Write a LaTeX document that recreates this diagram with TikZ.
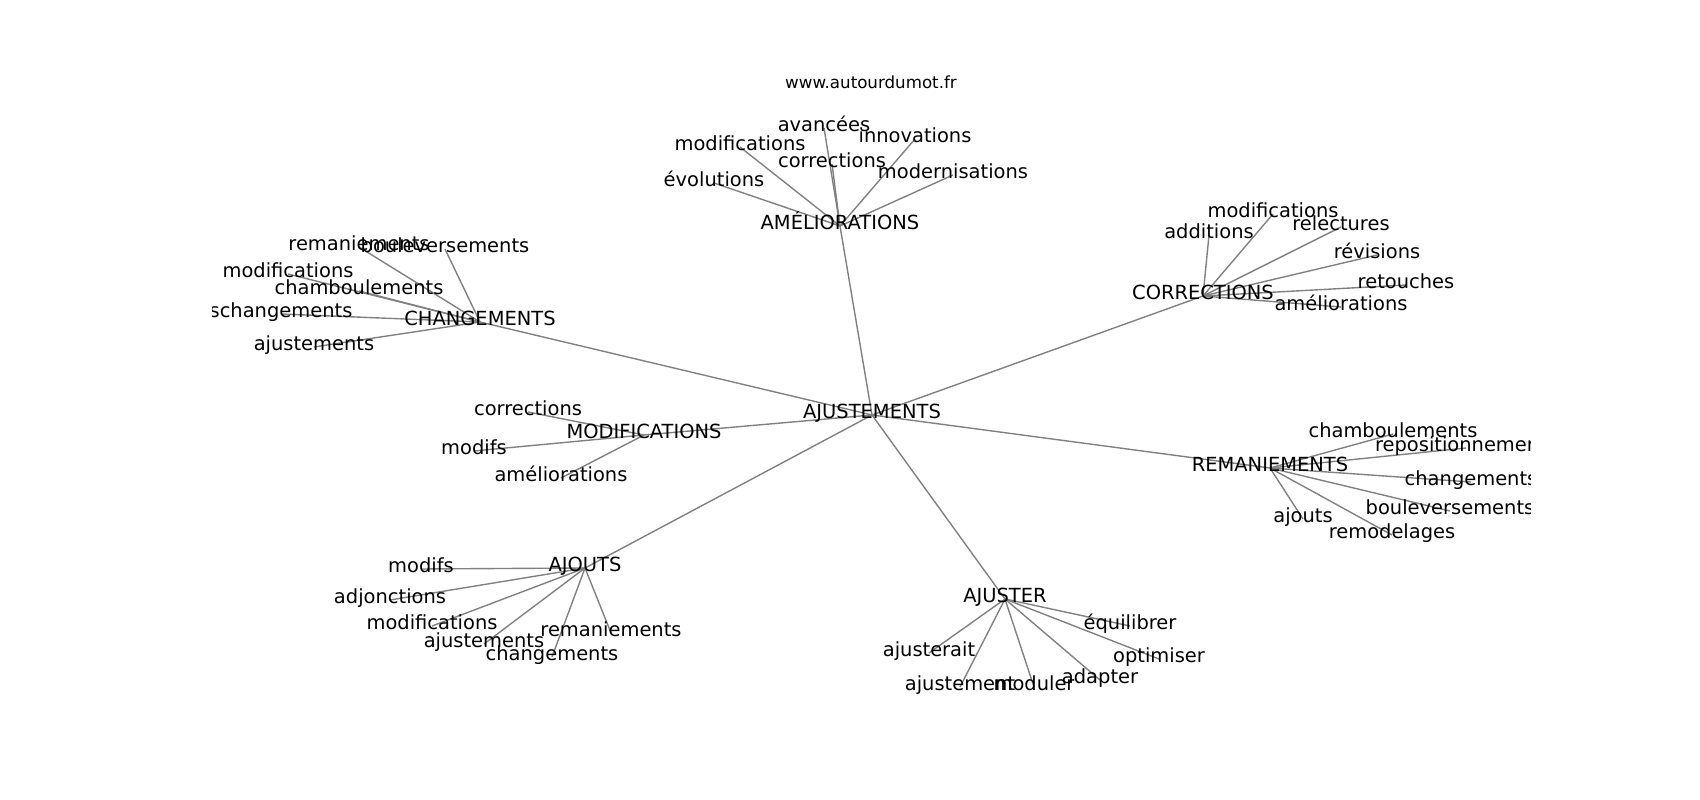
\documentclass[tikz,border=0pt]{standalone}
\usepackage{fontspec}
\setmainfont{DejaVu Sans}
\begin{document}
\begin{tikzpicture}[x=0.01in,y=-0.01in,
  edge/.style={draw=gray, line width=1bp},
  lbl/.style={font=\fontsize{14bp}{16bp}\selectfont, inner sep=0pt, text height=0.76em, text depth=0.23em, anchor=center},
  ttl/.style={font=\fontsize{12bp}{14bp}\selectfont, inner sep=0pt, anchor=base}]
\useasboundingbox (0,0) rectangle (1700,800);
\node[ttl] (title) at (871,89) {www.autourdumot.fr};
\begin{scope}
\clip (212.5,96) rectangle (1530,704);
% centre and hubs
\coordinate (c) at (872,415);
\coordinate (am) at (840,226);
\coordinate (co) at (1203,296);
\coordinate (ch) at (480,322);
\coordinate (mo) at (644,435);
\coordinate (re) at (1270,468);
\coordinate (aj) at (585,568);
\coordinate (ar) at (1005,599);
% AMELIORATIONS leaves
\coordinate (am1) at (824,128);
\coordinate (am2) at (740,147);
\coordinate (am3) at (915,139);
\coordinate (am4) at (832,164);
\coordinate (am5) at (953,175);
\coordinate (am6) at (714,183);
% CORRECTIONS leaves
\coordinate (co1) at (1273,214);
\coordinate (co2) at (1209,235);
\coordinate (co3) at (1341,227);
\coordinate (co4) at (1377,255);
\coordinate (co5) at (1406,285);
\coordinate (co6) at (1341,307);
% CHANGEMENTS leaves
\coordinate (ch1) at (359,247);
\coordinate (ch2) at (445,249);
\coordinate (ch3) at (288,274);
\coordinate (ch4) at (359,291);
\coordinate (ch5) at (281,314);
\coordinate (ch6) at (314,347);
% MODIFICATIONS leaves
\coordinate (mo1) at (528,412);
\coordinate (mo2) at (474,451);
\coordinate (mo3) at (561,478);
% REMANIEMENTS leaves
\coordinate (re1) at (1393,434);
\coordinate (re2) at (1466,448);
\coordinate (re3) at (1471,482);
\coordinate (re4) at (1450,511);
\coordinate (re5) at (1303,519);
\coordinate (re6) at (1392,535);
% AJOUTS leaves
\coordinate (aj1) at (421,569);
\coordinate (aj2) at (390,600);
\coordinate (aj3) at (432,626);
\coordinate (aj4) at (611,633);
\coordinate (aj5) at (484,644);
\coordinate (aj6) at (552,657);
% AJUSTER leaves
\coordinate (ar1) at (1130,626);
\coordinate (ar2) at (929,653);
\coordinate (ar3) at (1159,659);
\coordinate (ar4) at (960,687);
\coordinate (ar5) at (1034,687);
\coordinate (ar6) at (1100,680);
% edges
\foreach \h in {am,co,ch,mo,re,aj,ar} \draw[edge] (c) -- (\h);
\foreach \h in {am,co,ch,re,aj,ar} \foreach \i in {1,...,6} \draw[edge] (\h) -- (\h\i);
\foreach \i in {1,2,3} \draw[edge] (mo) -- (mo\i);
% labels
\node[lbl] (tc) at (c) {AJUSTEMENTS};
\node[lbl] (tam) at (am) {AMÉLIORATIONS};
\node[lbl] (tco) at (co) {CORRECTIONS};
\node[lbl] (tch) at (ch) {CHANGEMENTS};
\node[lbl] (tmo) at (mo) {MODIFICATIONS};
\node[lbl] (tre) at (re) {REMANIEMENTS};
\node[lbl] (taj) at (aj) {AJOUTS};
\node[lbl] (tar) at (ar) {AJUSTER};
\node[lbl] (tam1) at (am1) {avancées};
\node[lbl] (tam2) at (am2) {modifications};
\node[lbl] (tam3) at (am3) {innovations};
\node[lbl] (tam4) at (am4) {corrections};
\node[lbl] (tam5) at (am5) {modernisations};
\node[lbl] (tam6) at (am6) {évolutions};
\node[lbl] (tco1) at (co1) {modifications};
\node[lbl] (tco2) at (co2) {additions};
\node[lbl] (tco3) at (co3) {relectures};
\node[lbl] (tco4) at (co4) {révisions};
\node[lbl] (tco5) at (co5) {retouches};
\node[lbl] (tco6) at (co6) {améliorations};
\node[lbl] (tch1) at (ch1) {remaniements};
\node[lbl] (tch2) at (ch2) {bouleversements};
\node[lbl] (tch3) at (ch3) {modifications};
\node[lbl] (tch4) at (ch4) {chamboulements};
\node[lbl] (tch5) at (ch5) {schangements};
\node[lbl] (tch6) at (ch6) {ajustements};
\node[lbl] (tmo1) at (mo1) {corrections};
\node[lbl] (tmo2) at (mo2) {modifs};
\node[lbl] (tmo3) at (mo3) {améliorations};
\node[lbl] (tre1) at (re1) {chamboulements};
\node[lbl] (tre2) at (re2) {repositionnements};
\node[lbl] (tre3) at (re3) {changements};
\node[lbl] (tre4) at (re4) {bouleversements};
\node[lbl] (tre5) at (re5) {ajouts};
\node[lbl] (tre6) at (re6) {remodelages};
\node[lbl] (taj1) at (aj1) {modifs};
\node[lbl] (taj2) at (aj2) {adjonctions};
\node[lbl] (taj3) at (aj3) {modifications};
\node[lbl] (taj4) at (aj4) {remaniements};
\node[lbl] (taj5) at (aj5) {ajustements};
\node[lbl] (taj6) at (aj6) {changements};
\node[lbl] (tar1) at (ar1) {équilibrer};
\node[lbl] (tar2) at (ar2) {ajusterait};
\node[lbl] (tar3) at (ar3) {optimiser};
\node[lbl] (tar4) at (ar4) {ajustement};
\node[lbl] (tar5) at (ar5) {moduler};
\node[lbl] (tar6) at (ar6) {adapter};
\end{scope}
\end{tikzpicture}
\end{document}
